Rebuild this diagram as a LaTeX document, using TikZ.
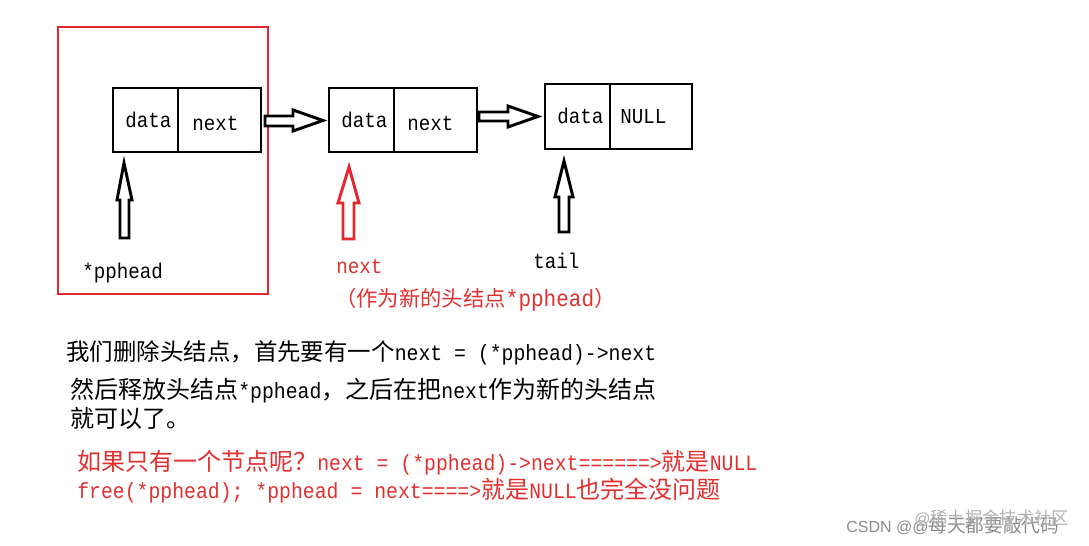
\documentclass[tikz,border=0pt]{standalone}
\usepackage{fontspec}
\setmainfont{Liberation Mono}
\newfontfamily\asc[FakeStretch=0.9]{Liberation Mono}
\newfontfamily\cjk{Noto Sans CJK SC}
\newfontfamily\wmfont{Liberation Sans}
\newcommand\zh[2]{{\cjk\fontsize{#1}{#1}\selectfont #2}}
\definecolor{myred}{RGB}{228,38,46}
\definecolor{txtred}{RGB}{226,48,48}
\begin{document}
\begin{tikzpicture}[x=0.75pt,y=-0.75pt,
  box/.style={draw=black,line width=2.2pt},
  blk/.style={draw=black,line width=2.2pt,line join=miter,fill=white},
  redblk/.style={draw=myred,line width=2.2pt,line join=miter,fill=white},
  lbl/.style={anchor=base west,inner sep=0pt,font=\asc\fontsize{16}{18}\selectfont},
  para/.style={anchor=base west,inner sep=0pt,font=\asc\fontsize{16.5}{19}\selectfont}]
\useasboundingbox[fill=white] (0,0) rectangle (1089,546);

% red frame around head node
\draw[draw=myred,line width=2.2pt] (58,27) rectangle (268,294);

% list nodes
\draw[box] (113,88) rectangle (261,152); \draw[box] (178,88) -- (178,152);
\draw[box] (329,88) rectangle (477,152); \draw[box] (394,88) -- (394,152);
\draw[box] (545,84) rectangle (692,149); \draw[box] (610,84) -- (610,149);

\node[lbl] (d1) at (125,127) {data};
\node[lbl] (n1) at (192,130) {next};
\node[lbl] (d2) at (341,127) {data};
\node[lbl] (n2) at (407,130) {next};
\node[lbl] (d3) at (557,123) {data};
\node[lbl] (n3) at (620,123) {NULL};

% link arrows (hollow block arrows)
\draw[blk] (265,116) -- (293,116) -- (293,110) -- (323,120.5) -- (293,131) -- (293,126) -- (265,126) -- cycle;
\draw[blk] (479,112) -- (508,112) -- (508,106) -- (538,116.5) -- (508,127) -- (508,121) -- (479,121) -- cycle;

% pointer arrows
\draw[blk] (124,163) -- (132,200) -- (129,200) -- (129,238) -- (120,238) -- (120,200) -- (117,200) -- cycle;
\draw[redblk] (349,167) -- (359,203) -- (354,203) -- (354,239) -- (343,239) -- (343,203) -- (338,203) -- cycle;
\draw[blk] (564,161) -- (573,197) -- (569,197) -- (569,232) -- (559,232) -- (559,197) -- (555,197) -- cycle;

\node[lbl] (ph) at (82,278) {*pphead};
\node[lbl,text=txtred] (nx) at (336,273) {next};
\node[lbl] (tl) at (533,268) {tail};
\node[lbl,text=txtred,font=\asc\fontsize{17.5}{19}\selectfont] (nh) at (335,306) {\zh{16}{（作为新的头结点}*pphead\zh{16}{）}};

% explanation
\node[para] (l1) at (66,360) {\zh{17.6}{我们删除头结点，首先要有一个}next = (*pphead)->next};
\node[para] (l2) at (70,398) {\zh{18}{然后释放头结点}*pphead\zh{18}{，之后在把}next\zh{18}{作为新的头结点}};
\node[para] (l3) at (70,427) {\zh{18}{就可以了。}};
\node[para,text=txtred] (l4) at (77,470) {\zh{18}{如果只有一个节点呢？}next = (*pphead)->next======>\zh{18}{就是}NULL};
\node[para,text=txtred] (l5) at (77,498) {free(*pphead); *pphead = next====>\zh{18}{就是}NULL\zh{18}{也完全没问题}};

% watermark
\node[anchor=base west,inner sep=0pt,text=black!45] (wm) at (846,532) {{\wmfont\fontsize{12}{12}\selectfont CSDN @@}\zh{14}{每天都要敲代码}};
\node[anchor=base west,inner sep=0pt,text=black!30] (wm2) at (914,524) {{\wmfont\fontsize{12}{12}\selectfont @}\zh{13}{稀土掘金技术社区}};
\end{tikzpicture}
\end{document}
